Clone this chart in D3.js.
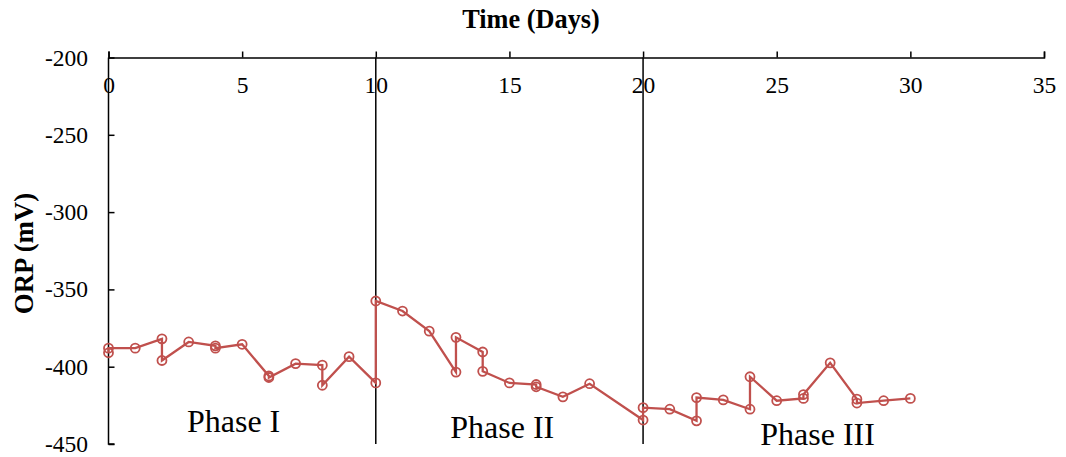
<!DOCTYPE html>
<html>
<head>
<meta charset="utf-8">
<script src="https://cdn.jsdelivr.net/npm/d3@7"></script>
<style>
  body { margin: 0; background: #fff; }
  .axis path, .axis line { stroke: #000; stroke-width: 1.5; }
  .axis text { fill: #000; }
</style>
</head>
<body>
<div id="vis"></div>
<script>
// ORP readings, in the order they were joined by the line
const DAYS = [0, 0, 1, 2, 2, 3, 4, 4, 5, 6, 6, 7, 8, 8, 9, 10, 10, 11, 12, 13, 13, 14, 14, 15, 16, 16, 17, 18,
              20, 20, 21, 22, 22, 23, 24, 24, 25, 26, 26, 27, 28, 28, 29, 30];
const ORP = [-391, -388, -388, -382, -396, -384, -386.5, -388, -385.5, -406, -407, -398, -399, -412, -393.5, -410.5, -357.5,
             -364, -377, -403.5, -381, -390.5, -403, -410.5, -411.5, -413, -419.5, -411,
             -434.5, -426.5, -427.5, -435, -420, -421.5, -427.5, -406.5, -422, -420.5, -418, -397.5, -421, -423.5, -422, -420.5];
const PHASE_LINES = [10, 20];
const PHASES = [{name: "Phase I", x: 4.68, y: -442.2}, {name: "Phase II", x: 14.73, y: -446.3}, {name: "Phase III", x: 26.53, y: -450.6}];
const X_TICKS = [0, 5, 10, 15, 20, 25, 30, 35];
const Y_TICKS = [-200, -250, -300, -350, -400, -450];

const WIDTH = 1066;
const HEIGHT = 457;
const MARGINS = {left: 108.5, right: 22, top: 57.5, bottom: 13};
const SERIF = "Liberation Serif, Times New Roman, serif";

const FRAME = d3.select("#vis")
                .append("svg")
                .attr("width", WIDTH)
                .attr("height", HEIGHT)
                .attr("font-family", SERIF);

const X_SCALE = d3.scaleLinear()
                  .domain([0, 35])
                  .range([MARGINS.left, WIDTH - MARGINS.right]);

const Y_SCALE = d3.scaleLinear()
                  .domain([-200, -450])
                  .range([MARGINS.top, HEIGHT - MARGINS.bottom]);

// x axis sits on top, ticks pointing up, labels below the line
const xAxis = FRAME.append("g")
                   .attr("class", "axis")
                   .attr("transform", "translate(0," + MARGINS.top + ")")
                   .call(d3.axisTop(X_SCALE).tickValues(X_TICKS).tickSizeInner(6).tickSizeOuter(6)
                           .tickFormat(d => String(d)));
xAxis.selectAll("text")
     .attr("y", 35.5)
     .attr("dy", null)
     .style("font-family", SERIF)
     .style("font-size", "23.5px");

// y axis, ticks pointing into the plot; plain hyphen for the minus
const yAxis = FRAME.append("g")
                   .attr("class", "axis")
                   .attr("transform", "translate(" + MARGINS.left + ",0)")
                   .call(d3.axisLeft(Y_SCALE).tickValues(Y_TICKS).tickSizeInner(-6).tickSizeOuter(0)
                           .tickFormat(d => String(d)));
yAxis.selectAll("text")
     .attr("x", -20.5)
     .style("font-family", SERIF)
     .style("font-size", "23.5px");
yAxis.select(".domain").attr("d", "M0," + MARGINS.top + "V" + (HEIGHT - MARGINS.bottom) + "h6");

// phase dividers
FRAME.selectAll(".phase-line")
     .data(PHASE_LINES)
     .enter().append("line")
     .attr("x1", d => X_SCALE(d))
     .attr("x2", d => X_SCALE(d))
     .attr("y1", MARGINS.top)
     .attr("y2", HEIGHT - MARGINS.bottom)
     .attr("stroke", "#000")
     .attr("stroke-width", 1.5);

const points = DAYS.map((d, i) => ({day: d, orp: ORP[i]}));

FRAME.append("path")
     .datum(points)
     .attr("fill", "none")
     .attr("stroke", "#C0504D")
     .attr("stroke-width", 2.3)
     .attr("d", d3.line().x(d => X_SCALE(d.day)).y(d => Y_SCALE(d.orp)));

FRAME.selectAll(".pt")
     .data(points)
     .enter().append("circle")
     .attr("cx", d => X_SCALE(d.day))
     .attr("cy", d => Y_SCALE(d.orp))
     .attr("r", 4.5)
     .attr("fill", "none")
     .attr("stroke", "#C0504D")
     .attr("stroke-width", 1.8);

FRAME.selectAll(".phase")
     .data(PHASES)
     .enter().append("text")
     .attr("x", d => X_SCALE(d.x))
     .attr("y", d => Y_SCALE(d.y))
     .attr("text-anchor", "middle")
     .attr("font-size", 32)
     .text(d => d.name);

// axis titles
FRAME.append("text")
     .attr("x", 531)
     .attr("y", 28)
     .attr("text-anchor", "middle")
     .attr("font-size", 26.3)
     .attr("font-weight", "bold")
     .text("Time (Days)");

FRAME.append("text")
     .attr("transform", "translate(33,253.5) rotate(-90)")
     .attr("text-anchor", "middle")
     .attr("font-size", 26.8)
     .attr("font-weight", "bold")
     .text("ORP (mV)");
</script>
</body>
</html>
